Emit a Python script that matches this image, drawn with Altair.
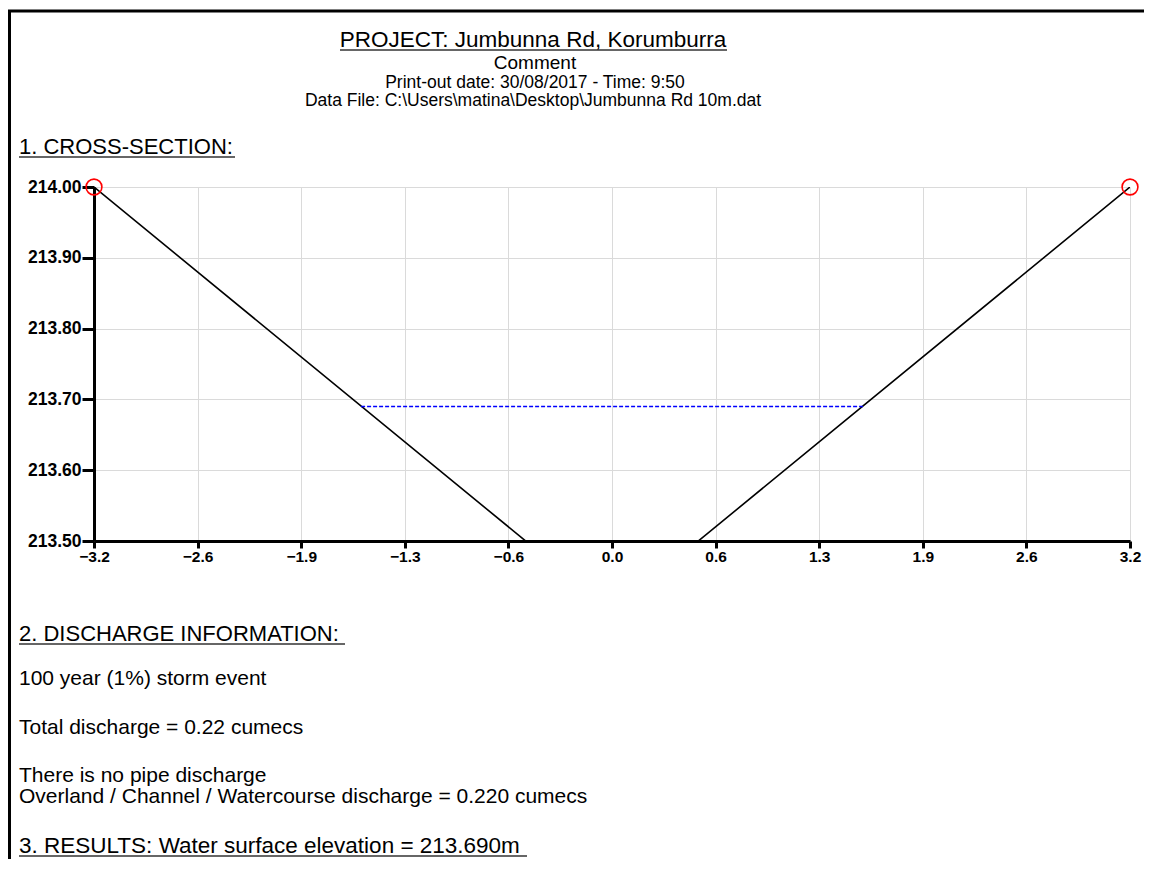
import altair as alt
import pandas as pd

# ---------------- data ----------------
section_x = [-3.2, 0.0, 3.2]
section_y = [214.0, 213.4, 214.0]
end_x = [-3.2, 3.2]
end_y = [214.0, 214.0]
water_x = [-1.55, 1.55]
water_y = [213.69, 213.69]
x_ticks = [-3.2, -2.56, -1.92, -1.28, -0.64, 0.0, 0.64, 1.28, 1.92, 2.56, 3.2]
y_ticks = [213.5, 213.6, 213.7, 213.8, 213.9, 214.0]

title_line = "PROJECT: Jumbunna Rd, Korumburra"
comment_line = "Comment"
date_line = "Print-out date: 30/08/2017 - Time: 9:50"
file_line = "Data File: C:\\Users\\matina\\Desktop\\Jumbunna Rd 10m.dat"
section1 = "1. CROSS-SECTION:"
section2 = "2. DISCHARGE INFORMATION:"
body_lines = [
    "100 year (1%) storm event",
    "Total discharge = 0.22 cumecs",
    "There is no pipe discharge",
    "Overland / Channel / Watercourse discharge = 0.220 cumecs",
]
section3 = "3. RESULTS: Water surface elevation = 213.690m"

# ---------------- layout ----------------
W, H = 1036, 354          # plot area
OX, OY = 94, 187          # plot origin on the page
FONT = "Liberation Sans"

df_sec = pd.DataFrame({"x": section_x, "y": section_y})
df_end = pd.DataFrame({"x": end_x, "y": end_y})
df_wat = pd.DataFrame({"x": water_x, "y": water_y})

xs = alt.Scale(domain=[-3.2, 3.2], nice=False, zero=False)
ys = alt.Scale(domain=[213.5, 214.0], nice=False, zero=False)

x_axis = alt.Axis(values=x_ticks, format=".1f", title=None, labelFont=FONT,
                  labelFontWeight="bold", labelFontSize=15.5, labelColor="black",
                  labelFlush=False, labelOverlap=False, labelPadding=1,
                  tickColor="black", tickWidth=3, tickSize=7,
                  domainColor="black", domainWidth=3,
                  grid=True, gridColor="#dadada", gridWidth=1)
y_axis = alt.Axis(values=y_ticks, format=".2f", title=None, labelFont=FONT,
                  labelFontWeight="bold", labelFontSize=17.5, labelColor="black",
                  labelFlush=False, labelOverlap=False, labelPadding=1,
                  tickColor="black", tickWidth=3, tickSize=12,
                  domainColor="black", domainWidth=3,
                  grid=True, gridColor="#dadada", gridWidth=1)

section = alt.Chart(df_sec).mark_line(color="black", strokeWidth=1.6, clip=True).encode(
    x=alt.X("x:Q", scale=xs, axis=x_axis),
    y=alt.Y("y:Q", scale=ys, axis=y_axis),
)
water = alt.Chart(df_wat).mark_line(color="#0000ff", strokeWidth=1.5,
                                    strokeDash=[4, 2], clip=True).encode(
    x=alt.X("x:Q", scale=xs), y=alt.Y("y:Q", scale=ys))
ends = alt.Chart(df_end).mark_point(shape="circle", filled=False, color="red",
                                    size=250, strokeWidth=1.6, opacity=1).encode(
    x=alt.X("x:Q", scale=xs), y=alt.Y("y:Q", scale=ys))


def text(s, px, py, size, align="left"):
    return alt.Chart(alt.Data(values=[{"t": s}])).mark_text(
        font=FONT, fontSize=size, color="black", align=align, baseline="middle"
    ).encode(x=alt.value(px - OX), y=alt.value(py - OY), text="t:N")


def hline(x1, x2, py, width=1.5, color="#333333"):
    return alt.Chart(alt.Data(values=[{"a": 1}])).mark_rule(
        color=color, strokeWidth=width
    ).encode(x=alt.value(x1 - OX), x2=alt.value(x2 - OX), y=alt.value(py - OY))


def vline(px, y1, y2, width=3, color="black"):
    return alt.Chart(alt.Data(values=[{"a": 1}])).mark_rule(
        color=color, strokeWidth=width
    ).encode(x=alt.value(px - OX), y=alt.value(y1 - OY), y2=alt.value(y2 - OY))


layers = [
    section, water, ends,
    # page frame
    hline(8, 1152, 11, width=3, color="black"),
    vline(9.5, 10, 869),
    # header
    text(title_line, 533, 40, 22.5, "center"), hline(340, 727, 50),
    text(comment_line, 535, 63, 19, "center"),
    text(date_line, 535, 83, 17.5, "center"),
    text(file_line, 533, 101, 17.5, "center"),
    text(section1, 19, 147, 22), hline(19, 235, 157),
    text(section2, 19, 634, 22), hline(19, 345, 644),
    text(body_lines[0], 19, 679, 21),
    text(body_lines[1], 19, 728, 21),
    text(body_lines[2], 19, 776, 21),
    text(body_lines[3], 19, 797, 21),
    text(section3, 19, 846, 22.5), hline(19, 527, 856),
]

chart = alt.layer(*layers).properties(
    width=W, height=H,
    autosize=alt.AutoSizeParams(type="none"),
    padding={"left": OX - 8, "top": OY - 8, "right": 14, "bottom": 318},
    background="white",
).configure_view(stroke=None)

chart.save("out.html", embed_options={"renderer": "svg", "actions": False})
